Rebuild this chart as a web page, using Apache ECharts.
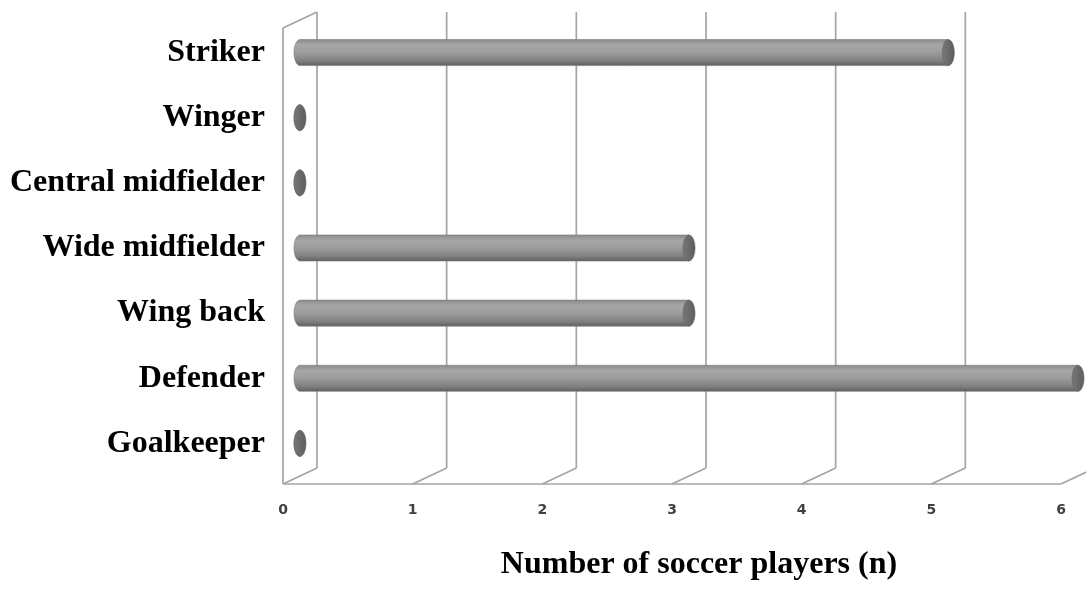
<!DOCTYPE html>
<html>
<head>
<meta charset="utf-8">
<title>Number of soccer players by position</title>
<script src="https://cdn.jsdelivr.net/npm/echarts@6/dist/echarts.min.js"></script>
<style>
  html, body { margin: 0; padding: 0; background: #ffffff; }
  #chart { width: 1086px; height: 589px; }
</style>
</head>
<body>
<div id="chart"></div>
<script>
// Playing positions, listed from the top row down
const positions = ['Striker', 'Winger', 'Central midfielder', 'Wide midfielder', 'Wing back', 'Defender', 'Goalkeeper'];
// Number of players in each position
const playerCounts = [5, 0, 0, 3, 3, 6, 0];
// Value-axis ticks
const countTicks = [0, 1, 2, 3, 4, 5, 6];
const axisTitle = 'Number of soccer players (n)';

// Pseudo-3D depth: how far the back wall sits from the front plane (px)
const DEPTH_X = 34;
const DEPTH_Y = -16;
const FRAME_COLOR = '#a4a4a4';

const chart = echarts.init(document.getElementById('chart'), null, { renderer: 'canvas' });

function seg(x1, y1, x2, y2) {
  return {
    type: 'line',
    shape: { x1: x1, y1: y1, x2: x2, y2: y2 },
    style: { stroke: FRAME_COLOR, lineWidth: 1.7 }
  };
}

// Back-wall gridlines, floor diagonals and the left side wall
function renderFrame(params, api) {
  const v = api.value(0);
  const cs = params.coordSys;
  const top = cs.y;
  const bottom = cs.y + cs.height;
  const x = api.coord([v, 0])[0];
  const children = [
    seg(x + DEPTH_X, top + DEPTH_Y, x + DEPTH_X, bottom + DEPTH_Y),
    seg(x, bottom, x + DEPTH_X, bottom + DEPTH_Y)
  ];
  if (v === countTicks[0]) {
    const xEnd = api.coord([countTicks[countTicks.length - 1], 0])[0];
    children.push(seg(x, top, x, bottom));
    children.push(seg(x, top, x + DEPTH_X, top + DEPTH_Y));
    children.push(seg(x, bottom, xEnd, bottom));
  }
  return { type: 'group', children: children };
}

function ellipsePoints(cx, cy, rx, ry, a0, a1, n) {
  const pts = [];
  for (let k = 0; k <= n; k++) {
    const a = a0 + (a1 - a0) * k / n;
    pts.push([cx + rx * Math.cos(a), cy + ry * Math.sin(a)]);
  }
  return pts;
}

// Horizontal cylinders, placed halfway into the depth of the plot
function renderCylinder(params, api) {
  const val = api.value(0);
  const idx = api.value(1);
  const p0 = api.coord([0, idx]);
  const p1 = api.coord([val, idx]);
  const h = api.size([0, 1])[1] * 0.4;
  const rx = 6;
  const ry = h / 2;
  const cy = p0[1] + DEPTH_Y / 2;
  const x0 = p0[0] + DEPTH_X / 2;
  const x1 = p1[0] + DEPTH_X / 2;

  const body = ellipsePoints(x0, cy, rx, ry, Math.PI / 2, Math.PI * 1.5, 24);
  body.push([x1, cy - ry], [x1, cy + ry]);
  const cap = ellipsePoints(x1, cy, rx, ry, 0, Math.PI * 2, 40);

  return {
    type: 'group',
    children: [
      {
        type: 'polygon',
        shape: { points: body },
        style: {
          fill: new echarts.graphic.LinearGradient(0, 0, 0, 1, [
            { offset: 0, color: '#8a8a8a' },
            { offset: 0.22, color: '#a7a7a7' },
            { offset: 0.5, color: '#9c9c9c' },
            { offset: 0.82, color: '#7e7e7e' },
            { offset: 1, color: '#5e5e5e' }
          ]),
          stroke: '#7a7a7a',
          lineWidth: 0.6
        }
      },
      {
        type: 'polygon',
        shape: { points: cap },
        style: {
          fill: new echarts.graphic.LinearGradient(0, 0, 1, 0, [
            { offset: 0, color: '#787878' },
            { offset: 1, color: '#5c5c5c' }
          ]),
          stroke: '#666666',
          lineWidth: 0.6
        }
      }
    ]
  };
}

const option = {
  backgroundColor: '#ffffff',
  animation: false,
  title: {
    text: axisTitle,
    left: 694,
    top: 544,
    textAlign: 'center',
    textStyle: {
      fontFamily: 'Liberation Serif',
      fontWeight: 'bold',
      fontSize: 32,
      color: '#000000'
    }
  },
  grid: {
    left: 283,
    right: 25,
    top: 28,
    bottom: 105,
    containLabel: false,
    outerBoundsMode: 'none'
  },
  xAxis: {
    type: 'value',
    min: 0,
    max: 6,
    interval: 1,
    axisLine: { show: false },
    axisTick: { show: false },
    splitLine: { show: false },
    axisLabel: {
      margin: 19,
      fontFamily: 'DejaVu Sans',
      fontWeight: 'bold',
      fontSize: 14,
      color: '#404040'
    }
  },
  yAxis: {
    type: 'category',
    inverse: true,
    data: positions,
    axisLine: { show: false },
    axisTick: { show: false },
    splitLine: { show: false },
    axisLabel: {
      margin: 18,
      fontFamily: 'Liberation Serif',
      fontWeight: 'bold',
      fontSize: 32,
      lineHeight: 16,
      verticalAlign: 'bottom',
      color: '#000000'
    }
  },
  series: [
    {
      type: 'custom',
      name: 'frame',
      clip: false,
      silent: true,
      renderItem: renderFrame,
      encode: { x: 0 },
      data: countTicks.map(function (v) { return [v, 0]; }),
      z: 1
    },
    {
      type: 'custom',
      name: 'players',
      clip: false,
      renderItem: renderCylinder,
      encode: { x: 0, y: 1 },
      data: playerCounts.map(function (v, i) { return [v, i]; }),
      z: 2
    }
  ]
};

chart.setOption(option);
</script>
</body>
</html>
